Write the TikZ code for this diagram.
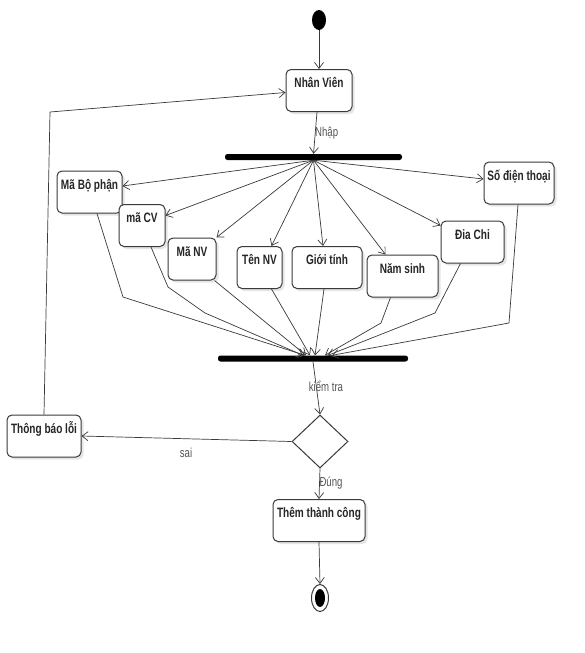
\documentclass[tikz,border=0pt]{standalone}
\usepackage{fontspec}
\setmainfont{Liberation Sans}
\newfontfamily\umlfont{Liberation Sans}[FakeStretch=0.74]
\usetikzlibrary{arrows.meta,shapes.geometric,shadows}
\definecolor{linegray}{HTML}{3A3A3A}
\definecolor{labelgray}{HTML}{555555}
\tikzset{
  act/.style={draw=linegray, line width=1pt, rounded corners=5pt, fill=white,
    drop shadow={shadow xshift=2.5pt, shadow yshift=-2.5pt, fill=black!10, opacity=1},
    font=\umlfont\bfseries\fontsize{13.6}{13.6}\selectfont, text=black!85,
    inner xsep=0pt, inner ysep=6pt, text height=12pt, text depth=18pt,
    minimum height=42pt},
  syncbar/.style={fill=black, rounded corners=2.5pt, minimum height=6pt, inner sep=0pt},
  flow/.style={->, draw=linegray, line width=0.7pt},
  lbl/.style={font=\umlfont\fontsize{13}{13}\selectfont, text=labelgray, inner sep=0pt},
  >={Straight Barb[length=6pt,width=9pt]}
}
\begin{document}
\begin{tikzpicture}[x=1pt,y=-1pt]
\useasboundingbox[fill=white] (0,0) rectangle (585,653);
%Start
  \node[fill=black, ellipse, minimum width=14pt, minimum height=20pt, inner sep=0pt]
    (start) at (319,20) {};
  \node[act, minimum width=66pt] (nv) at (319,90.5) {Nhân Viên};
  \draw[flow] (start.south) -- (nv.north);
%Fork
  \node[syncbar, minimum width=177pt] (fork) at (313.5,157) {};
  \draw[flow] ([xshift=-2pt]nv.south) -- (fork.north);
  \node[lbl, anchor=west] (lnhap) at (315,133) {Nhập};
%Attribute
  \node[act, minimum width=65pt] (mbp) at (89.5,192) {Mã Bộ phận};
  \node[act, minimum width=46pt] (mcv) at (142,225.5) {mã CV};
  \node[act, minimum width=48pt] (mnv) at (192,259) {Mã NV};
  \node[act, minimum width=45pt] (tnv) at (259.5,267.5) {Tên NV};
  \node[act, minimum width=70pt] (gt) at (327,267.5) {Giới tính};
  \node[act, minimum width=71pt] (ns) at (402.5,276) {Năm sinh};
  \node[act, minimum width=63pt] (dc) at (472.5,242) {Đia Chi};
  \node[act, minimum width=70pt] (sdt) at (519,183) {Số điện thoại};
%Pfeile vom Fork
  \draw[flow] (fork.south) -- ([yshift=6pt]mbp.east);
  \draw[flow] (fork.south) -- ([yshift=10pt]mcv.east);
  \draw[flow] (fork.south) -- (mnv.north east);
  \draw[flow] (fork.south) -- ([xshift=12pt]tnv.north);
  \draw[flow] (fork.south) -- ([xshift=-4pt]gt.north);
  \draw[flow] (fork.south) -- ([xshift=-17pt]ns.north);
  \draw[flow] (fork.south) -- ([yshift=-5pt]dc.north west);
  \draw[flow] (fork.south) -- ([yshift=4pt]sdt.west);
%Join
  \node[syncbar, minimum width=190pt] (join) at (313,358.5) {};
  \draw[flow] ([xshift=7.5pt]mbp.south) -- (123,297) -- ([xshift=-8pt]join.north);
  \draw[flow] ([xshift=9pt]mcv.south) -- (168,287) -- (205,313) -- ([xshift=-10pt]join.north);
  \draw[flow] ([xshift=-2pt]mnv.south east) -- ([xshift=-7pt]join.north);
  \draw[flow] ([xshift=12pt]tnv.south) -- ([xshift=-3pt]join.north);
  \draw[flow] ([xshift=-3pt]gt.south) -- ([xshift=2pt]join.north);
  \draw[flow] ([xshift=-12pt]ns.south) -- (381,323) -- ([xshift=12pt]join.north);
  \draw[flow] ([xshift=-12pt]dc.south) -- (435,313) -- ([xshift=15pt]join.north);
  \draw[flow] ([xshift=-1pt]sdt.south) -- (509,323) -- ([xshift=19pt]join.north);
%Entscheidung
  \node[draw=linegray, line width=1pt, diamond, fill=white, minimum width=56pt,
    minimum height=53pt, inner sep=0pt] (chk) at (320,441.5) {};
  \draw[flow] (join.south) -- (chk.north);
  \node[lbl] (lkt) at (326,386) {kiểm tra};
  \node[act, minimum width=74pt] (tbl) at (44,436) {Thông báo lỗi};
  \draw[flow] (chk.west) -- (tbl.east);
  \node[lbl] (lsai) at (186,453) {sai};
  \draw[flow] (tbl.north) -- (50,112) -- ([yshift=-2pt]nv.west);
%Ende
  \node[act, minimum width=92pt] (ttc) at (319,520.5) {Thêm thành công};
  \draw[flow] (chk.south) -- (ttc.north);
  \node[lbl] (ldung) at (331,483) {Đúng};
  \node[draw=linegray, line width=1pt, ellipse, fill=white, minimum width=17pt,
    minimum height=27pt, inner sep=0pt] (fin) at (320,598) {};
  \fill (fin.center) ellipse (5 and 9);
  \draw[flow] (ttc.south) -- (fin.north);
\end{tikzpicture}
\end{document}
